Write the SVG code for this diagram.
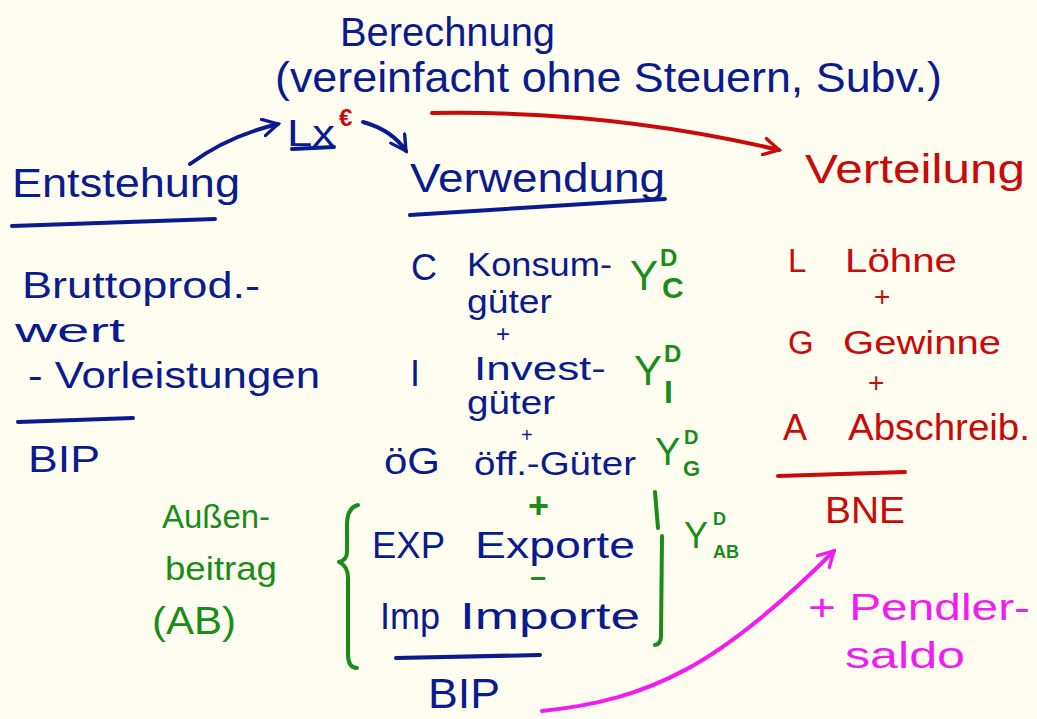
<svg xmlns="http://www.w3.org/2000/svg" width="1037" height="719" viewBox="0 0 1037 719">
<style>
text{font-family:"Liberation Sans","DejaVu Sans",sans-serif;}
.b{fill:#0a1a8f;}
.r{fill:#c80a0a;}
.g{fill:#1a8c1a;}
.m{fill:#f01cf0;}
.ln{fill:none;stroke-width:4;stroke-linecap:round;stroke-linejoin:round;}
.sb{stroke:#0a1a8f;}
.sr{stroke:#c80a0a;}
.sg{stroke:#1a8c1a;}
.sm{stroke:#f01cf0;}
.h{font-size:40px;}
.t{font-size:36px;}
.k{font-size:33px;}
.p{font-size:28px;}
</style>
<defs>
<marker id="ab" viewBox="0 0 12 12" refX="10" refY="6" markerWidth="5" markerHeight="5" orient="auto" markerUnits="strokeWidth"><path d="M1,1 L10,6 L1,11" fill="none" stroke="#0a1a8f" stroke-width="2" stroke-linecap="round"/></marker>
<marker id="ar" viewBox="0 0 12 12" refX="10" refY="6" markerWidth="5" markerHeight="5" orient="auto" markerUnits="strokeWidth"><path d="M1,1 L10,6 L1,11" fill="none" stroke="#c80a0a" stroke-width="2" stroke-linecap="round"/></marker>
<marker id="am" viewBox="0 0 12 12" refX="10" refY="6" markerWidth="5" markerHeight="5" orient="auto" markerUnits="strokeWidth"><path d="M1,1 L10,6 L1,11" fill="none" stroke="#f01cf0" stroke-width="2" stroke-linecap="round"/></marker>
</defs>
<rect width="1037" height="719" fill="#fffdef"/>

<g id="connectors">
<path class="ln sb" d="M190,164 Q228,136 278,124" marker-end="url(#ab)"/>
<path class="ln sb" d="M363,122 Q392,130 406,151" marker-end="url(#ab)"/>
<path class="ln sr" d="M432,113 Q610,110 779,150" marker-end="url(#ar)"/>
<path class="ln sm" d="M542,711 C650,700 720,665 834,551" marker-end="url(#am)"/>
</g>

<g id="berechnung">
<text class="b" x="340" y="46" font-size="40" textLength="215" lengthAdjust="spacingAndGlyphs">Berechnung</text>
<text class="b" x="275" y="92" font-size="42" textLength="667" lengthAdjust="spacingAndGlyphs">(vereinfacht ohne Steuern, Subv.)</text>
</g>

<g id="center">
<text class="b" x="287" y="146" font-size="36" textLength="48" lengthAdjust="spacingAndGlyphs">Lx</text>
<path class="ln sb" d="M292,149 L334,147"/>
<text class="r" x="339" y="126" font-size="24" font-weight="bold">€</text>
</g>

<g id="entstehung">
<text class="b h" x="12" y="197" textLength="228" lengthAdjust="spacingAndGlyphs">Entstehung</text>
<path class="ln sb" d="M12,226 L215,219"/>
<text class="b t" x="22" y="298" textLength="238" lengthAdjust="spacingAndGlyphs">Bruttoprod.-</text>
<text class="b k" x="15" y="342" textLength="110" lengthAdjust="spacingAndGlyphs">wert</text>
<text class="b t" x="28" y="388" textLength="292" lengthAdjust="spacingAndGlyphs">- Vorleistungen</text>
<path class="ln sb" d="M18,422 L133,418"/>
<text class="b t" x="28" y="472" textLength="72" lengthAdjust="spacingAndGlyphs">BIP</text>
</g>

<g id="verwendung">
<text class="b h" x="410" y="192" textLength="255" lengthAdjust="spacingAndGlyphs">Verwendung</text>
<path class="ln sb" d="M410,215 L665,199"/>
<text class="b t" x="411" y="280">C</text>
<text class="b k" x="467" y="276" textLength="145" lengthAdjust="spacingAndGlyphs">Konsum-</text>
<text class="b k" x="467" y="313" textLength="85" lengthAdjust="spacingAndGlyphs">güter</text>
<text class="b" x="496" y="342" font-size="24">+</text>
<text class="b t" x="410" y="386">I</text>
<text class="b k" x="474" y="380" textLength="132" lengthAdjust="spacingAndGlyphs">Invest-</text>
<text class="b k" x="467" y="414" textLength="88" lengthAdjust="spacingAndGlyphs">güter</text>
<text class="b" x="521" y="442" font-size="20">+</text>
<text class="b t" x="384" y="474" textLength="56" lengthAdjust="spacingAndGlyphs">öG</text>
<text class="b k" x="474" y="475" textLength="162" lengthAdjust="spacingAndGlyphs">öff.-Güter</text>
<text class="g" x="528" y="518" font-size="36" font-weight="bold">+</text>
<text class="b t" x="372" y="558" textLength="73" lengthAdjust="spacingAndGlyphs">EXP</text>
<text class="b t" x="475" y="558" textLength="160" lengthAdjust="spacingAndGlyphs">Exporte</text>
<text class="g" x="530" y="588" font-size="28" font-weight="bold">−</text>
<text class="b t" x="380" y="629" textLength="60" lengthAdjust="spacingAndGlyphs">Imp</text>
<text class="b t" x="460" y="629" textLength="180" lengthAdjust="spacingAndGlyphs">Importe</text>
<path class="ln sb" d="M396,658 L540,655"/>
<text class="b" x="428" y="708" font-size="42" textLength="72" lengthAdjust="spacingAndGlyphs">BIP</text>
</g>

<g id="nachfrage">
<text class="g" x="630" y="290" font-size="42">Y</text>
<text class="g" x="660" y="266" font-size="24" font-weight="bold">D</text>
<text class="g" x="662" y="298" font-size="30" font-weight="bold">C</text>
<text class="g" x="634" y="385" font-size="42">Y</text>
<text class="g" x="664" y="362" font-size="24" font-weight="bold">D</text>
<text class="g" x="664" y="403" font-size="32" font-weight="bold">I</text>
<text class="g" x="655" y="465" font-size="38">Y</text>
<text class="g" x="684" y="444" font-size="20" font-weight="bold">D</text>
<text class="g" x="683" y="476" font-size="22" font-weight="bold">G</text>
<text class="g" x="684" y="548" font-size="36">Y</text>
<text class="g" x="713" y="525" font-size="18" font-weight="bold">D</text>
<text class="g" x="713" y="558" font-size="18" font-weight="bold">AB</text>
</g>

<g id="aussenbeitrag">
<text class="g" x="162" y="528" font-size="34" textLength="108" lengthAdjust="spacingAndGlyphs">Außen-</text>
<text class="g" x="165" y="580" font-size="34" textLength="112" lengthAdjust="spacingAndGlyphs">beitrag</text>
<text class="g" x="152" y="634" font-size="38" textLength="84" lengthAdjust="spacingAndGlyphs">(AB)</text>
<path class="ln sg" d="M358,505 Q347,508 347,524 L347,552 Q347,560 339,562 Q348,566 348,578 L348,654 Q348,668 357,668"/>
<path class="ln sg" d="M655,492 L658,528 M662,536 L661,636 Q661,644 655,645"/>
</g>

<g id="verteilung">
<text class="r h" x="805" y="183" textLength="220" lengthAdjust="spacingAndGlyphs">Verteilung</text>
<text class="r k" x="788" y="272">L</text>
<text class="r k" x="845" y="272" textLength="112" lengthAdjust="spacingAndGlyphs">Löhne</text>
<text class="r p" x="874" y="306">+</text>
<text class="r k" x="788" y="354">G</text>
<text class="r k" x="843" y="354" textLength="158" lengthAdjust="spacingAndGlyphs">Gewinne</text>
<text class="r p" x="868" y="392">+</text>
<text class="r t" x="783" y="440">A</text>
<text class="r t" x="848" y="440" textLength="182" lengthAdjust="spacingAndGlyphs">Abschreib.</text>
<path class="ln sr" d="M778,476 L905,472"/>
<text class="r t" x="825" y="523" textLength="80" lengthAdjust="spacingAndGlyphs">BNE</text>
</g>

<g id="pendler">
<text class="m t" x="808" y="620" textLength="222" lengthAdjust="spacingAndGlyphs">+ Pendler-</text>
<text class="m t" x="845" y="668" textLength="120" lengthAdjust="spacingAndGlyphs">saldo</text>
</g>
</svg>
